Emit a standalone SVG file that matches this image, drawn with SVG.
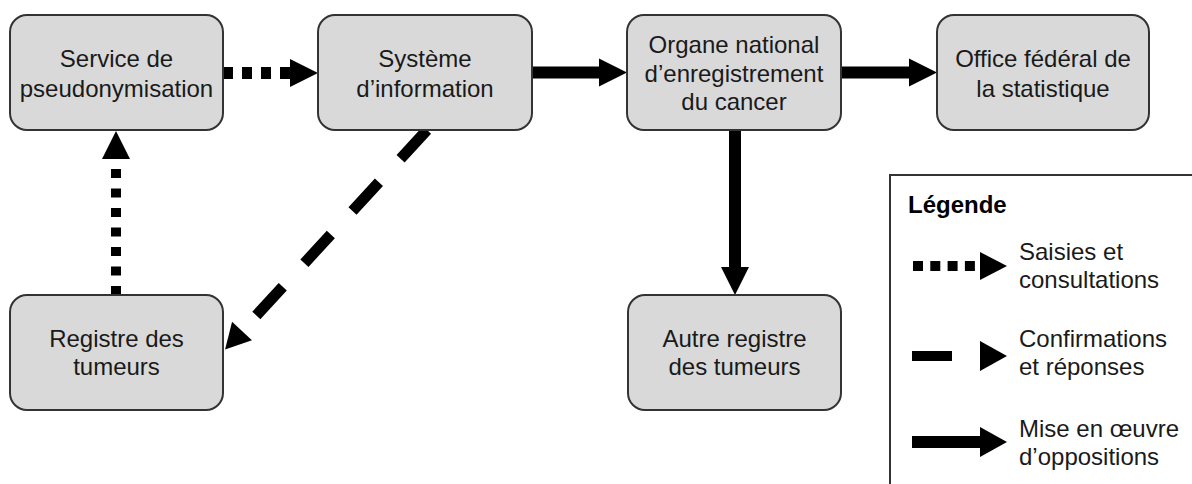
<svg xmlns="http://www.w3.org/2000/svg" width="1192" height="484" viewBox="0 0 1192 484">
<style>
.box{fill:#d9d9d9;stroke:#333;stroke-width:2}
.t{font-family:"Liberation Sans",Arial,sans-serif;font-size:24px;fill:#1a1a1a;text-anchor:middle}
.lt{font-family:"Liberation Sans",Arial,sans-serif;font-size:24px;fill:#1a1a1a}
.lb{font-family:"Liberation Sans",Arial,sans-serif;font-size:24px;font-weight:bold;fill:#000}
.c{stroke:#000;fill:none}
</style>
<defs>
<marker id="ah" markerUnits="userSpaceOnUse" markerWidth="30" markerHeight="30" refX="0" refY="14" orient="auto" overflow="visible">
<path d="M0,0 L28,14 L0,28 z" fill="#000"/>
</marker>
<marker id="ahd" markerUnits="userSpaceOnUse" markerWidth="30" markerHeight="30" refX="0" refY="13.5" orient="auto" overflow="visible">
<path d="M0,0 L25,13.5 L0,27 z" fill="#000"/>
</marker>
</defs>
<rect width="1192" height="484" fill="#fff"/>
<g id="connectors">
<line class="c" x1="223" y1="73" x2="290" y2="73" stroke-width="12" stroke-dasharray="10 9" marker-end="url(#ah)"/>
<line class="c" x1="532" y1="72.5" x2="599" y2="72.5" stroke-width="12" marker-end="url(#ah)"/>
<line class="c" x1="841" y1="72.5" x2="909" y2="72.5" stroke-width="12" marker-end="url(#ah)"/>
<line class="c" x1="735" y1="130" x2="735" y2="267" stroke-width="12" marker-end="url(#ah)"/>
<line class="c" x1="116" y1="295" x2="116" y2="159" stroke-width="10" stroke-dasharray="9 10.5" marker-end="url(#ah)"/>
<line class="c" x1="427" y1="130" x2="242" y2="331" stroke-width="11" stroke-dasharray="39 32" marker-end="url(#ahd)"/>
</g>
<g id="n-pseudo">
<rect class="box" x="10" y="15" width="213" height="115" rx="17"/>
<text class="t" x="116.5" y="67">Service de</text>
<text class="t" x="116.5" y="97">pseudonymisation</text>
</g>
<g id="n-systeme">
<rect class="box" x="318" y="15" width="214" height="115" rx="17"/>
<text class="t" x="425" y="67">Système</text>
<text class="t" x="425" y="97">d’information</text>
</g>
<g id="n-organe">
<rect class="box" x="627" y="15" width="214" height="115" rx="17"/>
<text class="t" x="734" y="53">Organe national</text>
<text class="t" x="734" y="82">d’enregistrement</text>
<text class="t" x="734" y="110">du cancer</text>
</g>
<g id="n-ofs">
<rect class="box" x="937" y="15" width="212" height="115" rx="17"/>
<text class="t" x="1043" y="67">Office fédéral de</text>
<text class="t" x="1043" y="97">la statistique</text>
</g>
<g id="n-registre">
<rect class="box" x="10" y="295" width="213" height="115" rx="17"/>
<text class="t" x="116.5" y="347">Registre des</text>
<text class="t" x="116.5" y="375">tumeurs</text>
</g>
<g id="n-autre">
<rect class="box" x="628" y="295" width="213" height="115" rx="17"/>
<text class="t" x="734.5" y="347">Autre registre</text>
<text class="t" x="734.5" y="375">des tumeurs</text>
</g>
<g id="legend">
<rect x="890" y="175" width="330" height="330" fill="#fff" stroke="#333" stroke-width="2"/>
<text class="lb" x="908" y="213">Légende</text>
<line class="c" x1="913" y1="266" x2="982" y2="266" stroke-width="10" stroke-dasharray="10 7.3"/>
<path d="M980,252 L1007,266 L980,280 z" fill="#000"/>
<text class="lt" x="1019" y="260">Saisies et</text>
<text class="lt" x="1019" y="288">consultations</text>
<line class="c" x1="912" y1="356" x2="952" y2="356" stroke-width="10"/>
<path d="M980,341 L1007,356 L980,371 z" fill="#000"/>
<text class="lt" x="1019" y="347">Confirmations</text>
<text class="lt" x="1019" y="375">et réponses</text>
<line class="c" x1="912" y1="442" x2="982" y2="442" stroke-width="12"/>
<path d="M980,427 L1007,442 L980,457 z" fill="#000"/>
<text class="lt" x="1019" y="437">Mise en œuvre</text>
<text class="lt" x="1019" y="465">d’oppositions</text>
</g>
</svg>
